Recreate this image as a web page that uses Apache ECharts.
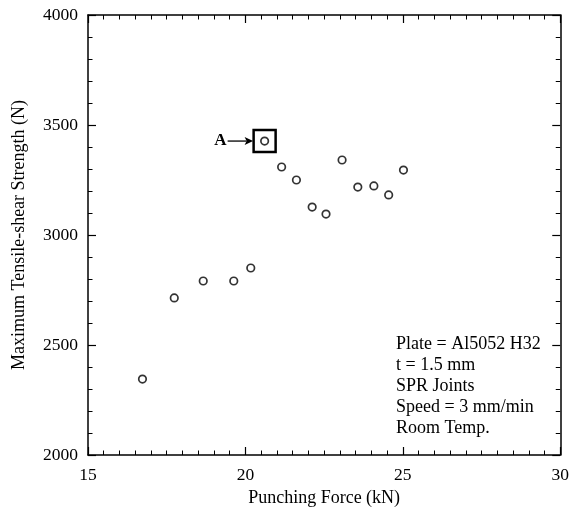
<!DOCTYPE html>
<html>
<head>
<meta charset="utf-8">
<script src="https://cdn.jsdelivr.net/npm/echarts@6/dist/echarts.min.js"></script>
<style>
  html, body { margin: 0; padding: 0; background: #fff; }
  #chart { width: 572px; height: 512px; }
</style>
</head>
<body>
<div id="chart"></div>
<script>
var punchForce = [16.73, 17.74, 18.66, 19.63, 20.17, 20.61, 21.15, 21.62, 22.12, 22.56, 23.07, 23.57, 24.08, 24.55, 25.02];
var tensileStrength = [2345, 2714, 2791, 2791, 2850, 3427, 3309, 3250, 3127, 3095, 3341, 3218, 3223, 3182, 3295];
var markedIndex = 5;
var markedLabel = 'A';
var noteLines = ['Plate = Al5052 H32', 't = 1.5 mm', 'SPR Joints', 'Speed = 3 mm/min', 'Room Temp.'];

var serif = '"Liberation Serif", "DejaVu Serif", serif';
var myChart = echarts.init(document.getElementById('chart'));

function frameAxis(extra) {
    var base = {
        axisLine: { show: true, onZero: false, lineStyle: { color: '#000', width: 1.5 } },
        axisTick: { show: true, inside: true, length: 8, lineStyle: { color: '#000', width: 1.2 } },
        splitLine: { show: false },
        axisLabel: { show: false }
    };
    return Object.assign(base, extra);
}

var points = punchForce.map(function (x, i) { return [x, tensileStrength[i]]; });

var option = {
    animation: false,
    backgroundColor: '#fff',
    grid: { left: 88, top: 15, right: 8, bottom: 57 },
    xAxis: [
        frameAxis({
            type: 'value', position: 'bottom', min: 15, max: 30, interval: 5,
            minorTick: { show: true, splitNumber: 10, length: 4.5, lineStyle: { color: '#000', width: 1 } },
            axisLabel: { show: true, color: '#000', fontFamily: serif, fontSize: 17.5, margin: 11 },
            name: 'Punching Force (kN)', nameLocation: 'middle', nameGap: 32,
            nameTextStyle: { color: '#000', fontFamily: serif, fontSize: 18 }
        }),
        frameAxis({
            type: 'value', position: 'top', min: 15, max: 30, interval: 5,
            minorTick: { show: true, splitNumber: 10, length: 4.5, lineStyle: { color: '#000', width: 1 } }
        })
    ],
    yAxis: [
        frameAxis({
            type: 'value', position: 'left', min: 2000, max: 4000, interval: 500,
            minorTick: { show: true, splitNumber: 5, length: 4.5, lineStyle: { color: '#000', width: 1 } },
            axisLabel: {
                show: true, color: '#000', fontFamily: serif, fontSize: 17.5, margin: 10,
                formatter: function (v) { return String(v); }
            },
            name: 'Maximum Tensile-shear Strength (N)', nameLocation: 'middle', nameGap: 60,
            nameTextStyle: { color: '#000', fontFamily: serif, fontSize: 18 }
        }),
        frameAxis({
            type: 'value', position: 'right', min: 2000, max: 4000, interval: 500,
            minorTick: { show: true, splitNumber: 5, length: 4.5, lineStyle: { color: '#000', width: 1 } }
        })
    ],
    series: [
        {
            type: 'scatter',
            xAxisIndex: 0,
            yAxisIndex: 0,
            symbol: 'circle',
            symbolSize: 7.5,
            itemStyle: { color: '#fff', borderColor: '#000', borderWidth: 1.7 },
            data: points
        }
    ]
};
myChart.setOption(option, true);

// box + arrow around point A, placed from that point's pixel position
var p = myChart.convertToPixel({ seriesIndex: 0 }, points[markedIndex]);
var px = p[0], py = p[1];
myChart.setOption({
    graphic: [
        {
            type: 'rect',
            shape: { x: px - 11, y: py - 11, width: 22, height: 22 },
            style: { fill: 'none', stroke: '#000', lineWidth: 2.5 }
        },
        {
            type: 'line',
            shape: { x1: px - 37, y1: py, x2: px - 18, y2: py },
            style: { stroke: '#000', lineWidth: 1.3 }
        },
        {
            type: 'polygon',
            shape: { points: [[px - 11.5, py], [px - 20, py - 4], [px - 18, py], [px - 20, py + 4]] },
            style: { fill: '#000' }
        },
        {
            type: 'text',
            x: px - 38, y: py,
            style: {
                text: markedLabel, fill: '#000', font: 'bold 17px ' + serif,
                textAlign: 'right', textVerticalAlign: 'middle'
            }
        },
        {
            type: 'text',
            left: 396, top: 334,
            style: {
                text: noteLines.join('\n'), fill: '#000', font: '18px ' + serif,
                lineHeight: 21
            }
        }
    ]
});
</script>
</body>
</html>
